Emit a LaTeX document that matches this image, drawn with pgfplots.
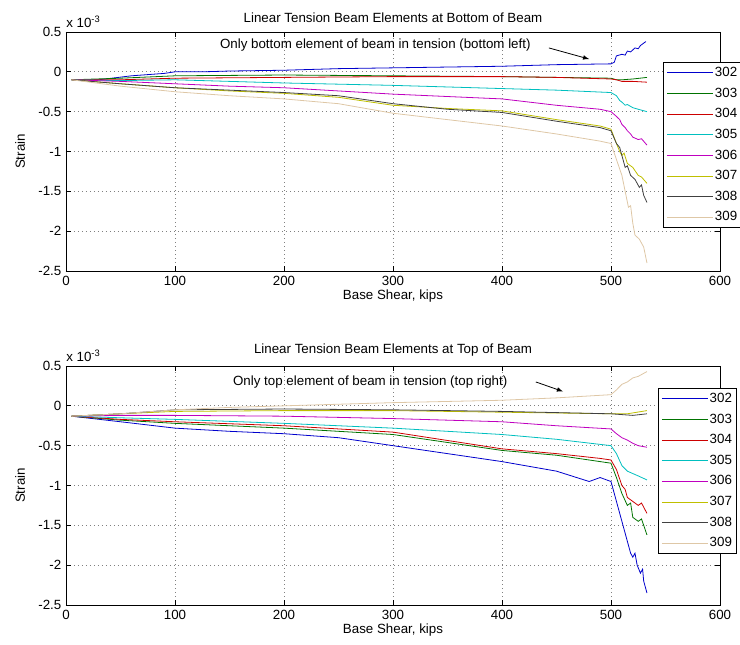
\documentclass[border=0pt]{standalone}
\usepackage{pgfplots}
\pgfplotsset{compat=1.18}
\usepackage{fontspec}
\setmainfont{Liberation Sans}
\definecolor{c302}{rgb}{0,0,0.8}
\definecolor{c303}{rgb}{0,0.45,0}
\definecolor{c304}{rgb}{0.8,0,0}
\definecolor{c305}{rgb}{0,0.75,0.75}
\definecolor{c306}{rgb}{0.75,0,0.75}
\definecolor{c307}{rgb}{0.75,0.75,0}
\definecolor{c308}{rgb}{0.25,0.25,0.25}
\definecolor{c309}{rgb}{0.87,0.78,0.65}
\pgfplotsset{
  beamaxis/.style={
    anchor=south west, scale only axis,
    width=490.5pt, height=179.25pt,
    xmin=0, xmax=600, ymin=-2.5, ymax=0.5,
    xtick={0,100,...,600},
    ytick={-2.5,-2,-1.5,-1,-0.5,0,0.5},
    yticklabels={-2.5,-2,-1.5,-1,-0.5,0,0.5},
    /pgf/number format/assume math mode=true,
    tick label style={font=\fontsize{10}{12}\selectfont},
    label style={font=\fontsize{10}{12}\selectfont},
    title style={font=\fontsize{10}{12}\selectfont},
    grid=major,
    major grid style={gray, line width=0.5pt, dash pattern=on 1pt off 2pt},
    axis line style={line width=0.6pt},
    tick style={black, line width=0.6pt},
    major tick length=4pt,
    tick align=inside,
    xlabel={Base Shear, kips},
    ylabel={Strain},
    xlabel style={at={(0.5,-0.105)}, anchor=center},
    ylabel style={at={(-0.0703,0.5)}, anchor=center},
    every axis plot/.append style={line width=0.6pt},
    legend image code/.code={\draw[##1] (0pt,0pt) -- (34.5pt,0pt);},
    legend cell align=left,
    legend style={draw=black, fill=white, line width=0.6pt,
      font=\fontsize{10}{12}\selectfont, inner sep=2.5pt, row sep=5pt,
      nodes={inner sep=1pt}},
    after end axis/.append code={
      \node[anchor=south west, inner sep=0pt, font=\fontsize{10}{12}\selectfont, yshift=3pt] at (rel axis cs:0,1) {x 10\textsuperscript{-3}};
    },
  }
}
\begin{document}
\begin{tikzpicture}[x=1pt,y=1pt]
\path[use as bounding box] (0,0) rectangle (555,483.75);
\clip (0,0) rectangle (555,483.75);
% ---------------- top axis ----------------
\begin{axis}[beamaxis, at={(49.5pt,280.5pt)},
  title={Linear Tension Beam Elements at Bottom of Beam},
  title style={at={(0.5,1)}, anchor=center, yshift=4.75pt},
  legend style={at={(0.913,0.874)}, anchor=north west}]
\addplot[c302] coordinates {(5,-0.1)(30,-0.1)(60,-0.05)(90,-0.02)(100,0)(125,0)(150,0.01)(200,0.02)(250,0.04)(300,0.05)(350,0.06)(400,0.07)(450,0.09)(500,0.1)(503,0.12)(505,0.2)(510,0.22)(513,0.21)(515,0.26)(518,0.25)(522,0.3)(525,0.29)(527,0.33)(532,0.38)};
\addplot[c303] coordinates {(5,-0.1)(50,-0.08)(100,-0.05)(200,-0.04)(300,-0.05)(400,-0.06)(450,-0.07)(500,-0.08)(505,-0.1)(510,-0.1)(520,-0.09)(533,-0.07)};
\addplot[c304] coordinates {(5,-0.1)(50,-0.1)(100,-0.08)(200,-0.07)(300,-0.06)(400,-0.06)(450,-0.07)(500,-0.09)(505,-0.1)(510,-0.12)(520,-0.12)(533,-0.13)};
\addplot[c305] coordinates {(5,-0.1)(50,-0.11)(100,-0.1)(200,-0.14)(300,-0.17)(400,-0.21)(450,-0.23)(500,-0.26)(505,-0.3)(508,-0.36)(510,-0.38)(513,-0.42)(515,-0.41)(520,-0.45)(525,-0.47)(533,-0.5)};
\addplot[c306] coordinates {(5,-0.1)(50,-0.12)(100,-0.15)(150,-0.18)(200,-0.2)(250,-0.24)(300,-0.28)(350,-0.31)(400,-0.34)(450,-0.42)(490,-0.47)(500,-0.5)(505,-0.56)(508,-0.6)(510,-0.66)(513,-0.7)(515,-0.74)(518,-0.78)(520,-0.82)(525,-0.85)(528,-0.84)(533,-0.92)};
\addplot[c307] coordinates {(5,-0.1)(50,-0.15)(100,-0.2)(150,-0.24)(200,-0.27)(250,-0.32)(300,-0.42)(350,-0.46)(400,-0.49)(450,-0.6)(490,-0.68)(500,-0.72)(505,-0.9)(508,-1.0)(510,-1.05)(512,-1.02)(515,-1.15)(518,-1.18)(520,-1.2)(525,-1.3)(528,-1.32)(533,-1.4)};
\addplot[c308] coordinates {(5,-0.1)(50,-0.15)(100,-0.2)(150,-0.23)(200,-0.26)(250,-0.3)(300,-0.4)(350,-0.47)(400,-0.51)(450,-0.62)(490,-0.7)(500,-0.74)(505,-0.9)(508,-0.95)(510,-1.05)(513,-1.2)(515,-1.18)(518,-1.3)(522,-1.35)(526,-1.45)(528,-1.42)(530,-1.55)(533,-1.64)};
\addplot[c309] coordinates {(5,-0.1)(50,-0.18)(100,-0.25)(150,-0.3)(200,-0.34)(250,-0.4)(300,-0.52)(350,-0.6)(400,-0.68)(450,-0.78)(490,-0.87)(500,-0.9)(505,-1.1)(510,-1.3)(513,-1.5)(516,-1.7)(518,-1.68)(520,-1.9)(522,-2.05)(526,-2.1)(530,-2.2)(533,-2.4)};
\legend{302,303,304,305,306,307,308,309}
\node[anchor=west, font=\fontsize{10}{12}\selectfont] at (axis cs:137,0.33) {Only bottom element of beam in tension (bottom left)};
\draw[-{latex}, line width=0.6pt] (axis cs:443,0.3) -- (axis cs:480,0.16);
\end{axis}
% ---------------- bottom axis ----------------
\begin{axis}[beamaxis, at={(49.5pt,30pt)},
  title={Linear Tension Beam Elements at Top of Beam},
  title style={at={(0.5,1)}, anchor=center, yshift=6pt},
  legend style={at={(0.905,0.908)}, anchor=north west}]
\addplot[c302] coordinates {(5,-0.13)(50,-0.2)(100,-0.28)(150,-0.32)(200,-0.35)(250,-0.4)(300,-0.5)(350,-0.6)(400,-0.7)(450,-0.82)(480,-0.95)(490,-0.9)(500,-0.95)(503,-1.1)(506,-1.25)(510,-1.45)(513,-1.6)(516,-1.75)(518,-1.85)(520,-1.9)(522,-1.85)(524,-2.0)(527,-2.1)(529,-2.05)(530,-2.2)(533,-2.35)};
\addplot[c303] coordinates {(5,-0.13)(50,-0.18)(100,-0.22)(200,-0.28)(300,-0.36)(400,-0.56)(450,-0.62)(490,-0.7)(500,-0.72)(505,-0.9)(510,-1.1)(515,-1.25)(518,-1.22)(520,-1.4)(525,-1.45)(528,-1.42)(533,-1.62)};
\addplot[c304] coordinates {(5,-0.13)(50,-0.17)(100,-0.2)(200,-0.25)(300,-0.33)(400,-0.54)(450,-0.6)(490,-0.66)(500,-0.68)(505,-0.8)(510,-1.0)(513,-1.05)(515,-1.15)(520,-1.2)(525,-1.25)(528,-1.22)(533,-1.35)};
\addplot[c305] coordinates {(5,-0.13)(50,-0.15)(100,-0.17)(200,-0.22)(300,-0.28)(400,-0.36)(450,-0.42)(500,-0.5)(505,-0.6)(510,-0.75)(515,-0.82)(520,-0.85)(525,-0.88)(533,-0.93)};
\addplot[c306] coordinates {(5,-0.13)(50,-0.12)(100,-0.12)(200,-0.13)(300,-0.16)(400,-0.2)(450,-0.25)(500,-0.29)(505,-0.35)(510,-0.4)(515,-0.43)(520,-0.47)(525,-0.5)(533,-0.52)};
\addplot[c307] coordinates {(5,-0.13)(50,-0.1)(100,-0.07)(200,-0.06)(300,-0.06)(400,-0.08)(500,-0.1)(515,-0.1)(533,-0.06)};
\addplot[c308] coordinates {(5,-0.13)(50,-0.1)(100,-0.05)(200,-0.04)(300,-0.05)(400,-0.07)(500,-0.1)(520,-0.12)(533,-0.1)};
\addplot[c309] coordinates {(5,-0.13)(50,-0.1)(100,-0.05)(150,-0.02)(200,0)(300,0.04)(400,0.07)(450,0.1)(500,0.14)(505,0.2)(510,0.27)(515,0.3)(520,0.35)(525,0.37)(533,0.43)};
\legend{302,303,304,305,306,307,308,309}
\node[anchor=west, font=\fontsize{10}{12}\selectfont] at (axis cs:149,0.30) {Only top element of beam in tension (top right)};
\draw[-{latex}, line width=0.6pt] (axis cs:431,0.3) -- (axis cs:456,0.18);
\end{axis}
\end{tikzpicture}
\end{document}
